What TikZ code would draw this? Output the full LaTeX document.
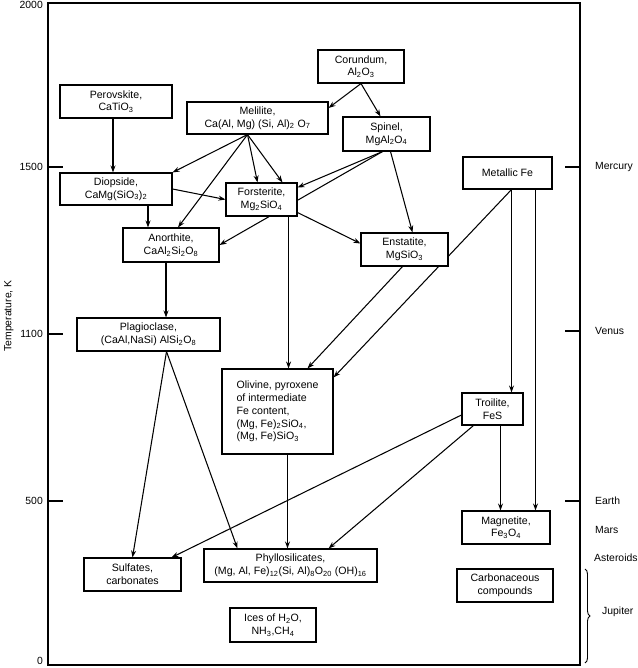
\documentclass[tikz,border=0pt]{standalone}
\usepackage{fontspec}
\setmainfont{Liberation Sans}
\usetikzlibrary{arrows.meta,backgrounds,decorations.pathreplacing}
\newcommand{\sbs}[1]{\textsubscript{#1}}
\tikzset{
  mineral/.style={draw, line width=1.1pt, fill=white, align=center, inner sep=1pt,
    font=\fontsize{10.6}{12.8}\selectfont},
  flow/.style={->, line width=1.05pt},
  axislab/.style={inner sep=1pt, font=\fontsize{10.4}{12}\selectfont},
}

\begin{document}
\begin{tikzpicture}[x=1pt, y=-1pt, >={Stealth[length=7pt,width=5pt]}]
  \useasboundingbox (0,0) rectangle (637,668);
  % frame and temperature scale
  \draw[line width=1.1pt] (48,3) rectangle (580,665);
  \foreach \y/\t in {5/2000, 167/1500, 334/1100, 501/500, 661/0}
    \node[axislab, anchor=east] (temp\t) at (44,\y) {\t};
  \foreach \y in {167, 334, 501}
    \draw[line width=1.1pt] (48,\y) -- (63,\y);
  \node[axislab, rotate=90] (taxis) at (9,316) {Temperature, K};
  % planets
  \foreach \y/\p in {167/Mercury, 331/Venus, 501/Earth} {
    \draw[line width=1.1pt] (565,\y) -- (580,\y);
    \node[axislab, anchor=west] (pl\p) at (594,\y) {\p};
  }
  \node[axislab, anchor=west] (plMars) at (594,530) {Mars};
  \node[axislab, anchor=west] (plAst) at (593,558) {Asteroids};
  \draw[line width=0.9pt, decorate, decoration={brace, amplitude=5pt}] (585,569) -- (585,663);
  \node[axislab, anchor=west] (plJup) at (601,612) {Jupiter};

  % condensates
  \node[mineral, minimum width=86, minimum height=33] (cor) at (361,66.5) {Corundum,\\Al\sbs{2}O\sbs{3}};
  \node[mineral, minimum width=112, minimum height=33] (per) at (116,101.5) {Perovskite,\\CaTiO\sbs{3}};
  \node[mineral, minimum width=141, minimum height=32] (mel) at (257.5,118) {Melilite,\\Ca(Al, Mg) (Si, Al)\sbs{2} O\sbs{7}};
  \node[mineral, minimum width=87, minimum height=34] (spi) at (386.5,134) {Spinel,\\MgAl\sbs{2}O\sbs{4}};
  \node[mineral, minimum width=89, minimum height=32] (fe) at (507.5,173) {Metallic Fe};
  \node[mineral, minimum width=112, minimum height=32] (dio) at (116,189) {Diopside,\\CaMg(SiO\sbs{3})\sbs{2}};
  \node[mineral, minimum width=71, minimum height=33] (for) at (261.5,199.5) {Forsterite,\\Mg\sbs{2}SiO\sbs{4}};
  \node[mineral, minimum width=96, minimum height=34] (ano) at (171,245) {Anorthite,\\CaAl\sbs{2}Si\sbs{2}O\sbs{8}};
  \node[mineral, minimum width=87, minimum height=33] (ens) at (404.5,249.5) {Enstatite,\\MgSiO\sbs{3}};
  \node[mineral, minimum width=143, minimum height=33] (pla) at (148.5,334.5) {Plagioclase,\\(CaAl,NaSi) AlSi\sbs{2}O\sbs{8}};
  \node[mineral, align=left, minimum width=111, minimum height=85] (oli) at (277.5,411.5)
    {Olivine, pyroxene\\of intermediate\\Fe content,\\(Mg, Fe)\sbs{2}SiO\sbs{4},\\(Mg, Fe)SiO\sbs{3}};
  \node[mineral, minimum width=61, minimum height=32] (tro) at (492.5,409) {Troilite,\\FeS};
  \node[mineral, minimum width=88, minimum height=33] (mag) at (506,527.5) {Magnetite,\\Fe\sbs{3}O\sbs{4}};
  \node[mineral, minimum width=96, minimum height=33] (car) at (505,585.5) {Carbonaceous\\compounds};
  \node[mineral, minimum width=97, minimum height=33] (sul) at (132.5,574.5) {Sulfates,\\carbonates};
  \node[mineral, minimum width=173, minimum height=33] (phy) at (290.5,565.5)
    {Phyllosilicates,\\(Mg, Al, Fe)\sbs{12}(Si, Al)\sbs{8}O\sbs{20} (OH)\sbs{16}};
  \node[mineral, minimum width=86, minimum height=34] (ice) at (273,625) {Ices of H\sbs{2}O,\\NH\sbs{3},CH\sbs{4}};

  % reaction paths (behind the boxes)
  \begin{pgfonlayer}{background}
    \draw[flow] (cor.south) -- ([yshift=10pt]mel.east);
    \draw[flow] (cor.south) -- ([xshift=-6pt]spi.north);
    \draw[flow] ([xshift=-3pt]per.south) -- ([xshift=-3pt]dio.north);
    \coordinate (melb) at ([xshift=-10pt]mel.south);
    \draw[flow] (melb) -- (dio.north east);
    \draw[flow] (melb) -- ([xshift=7pt]ano.north);
    \draw[flow] (melb) -- ([xshift=-4pt]for.north);
    \draw[flow] (melb) -- ([xshift=21pt]for.north);
    \draw[flow] (dio.east) -- (for.west);
    \coordinate (diob) at ([xshift=32pt]dio.south);
    \draw[flow] (diob) -- (diob |- ano.north);
    \coordinate (spib) at ([xshift=-4pt]spi.south);
    \draw[flow] (spib) -- ([yshift=12pt]for.east);
    \draw[flow] (spib) -- (ano.east);
    \draw[flow] ([xshift=4pt]spi.south) -- ([xshift=8pt]ens.north);
    \draw[flow] ([yshift=4pt]for.south east) -- ([yshift=6pt]ens.west);
    \coordinate (forb) at ([xshift=-9pt]for.south east);
    \draw[flow] (forb) -- (forb |- oli.north);
    \draw[flow] ([xshift=-2pt]ens.south) -- ([xshift=30pt]oli.north);
    \coordinate (feb) at ([xshift=4pt]fe.south);
    \draw[flow] (feb) -- ([yshift=-9pt]oli.north east);
    \draw[flow] (feb) -- (feb |- tro.north);
    \coordinate (febr) at ([xshift=28pt]fe.south);
    \draw[flow] (febr) -- (febr |- mag.north);
    \coordinate (trob) at ([xshift=8pt]tro.south);
    \draw[flow] (trob) -- (trob |- mag.north);
    \draw[flow] ([yshift=-6pt]tro.west) -- ([xshift=-10pt]sul.north east);
    \draw[flow] ([xshift=12pt]tro.south west) -- ([xshift=-49pt]phy.north east);
    \coordinate (olib) at ([xshift=10pt]oli.south);
    \draw[flow] (olib) -- (olib |- phy.north);
    \coordinate (anob) at ([xshift=-5pt]ano.south);
    \draw[flow] (anob) -- (anob |- pla.north);
    \coordinate (plab) at ([xshift=18pt]pla.south);
    \draw[flow] (plab) -- (sul.north);
    \draw[flow] (plab) -- ([xshift=34pt]phy.north west);
  \end{pgfonlayer}
\end{tikzpicture}
\end{document}
